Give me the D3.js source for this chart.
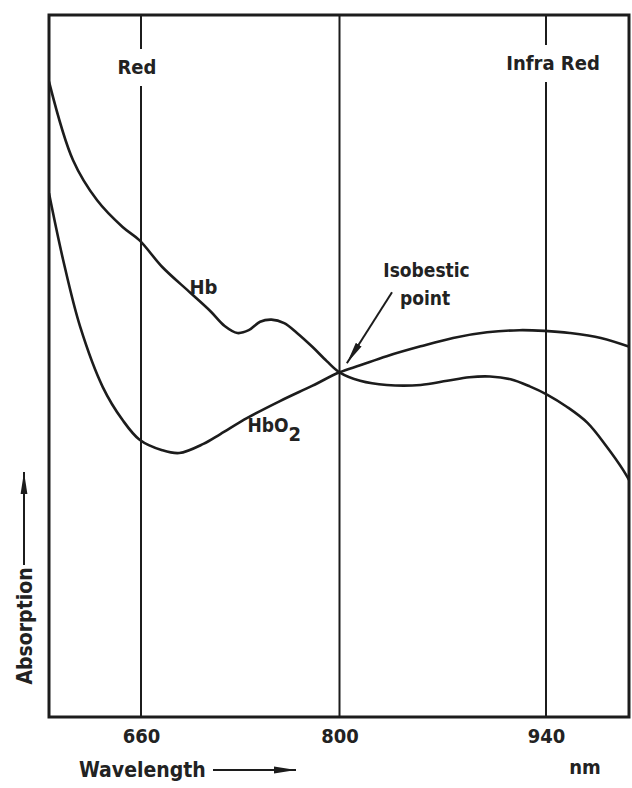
<!DOCTYPE html>
<html><head><meta charset="utf-8">
<script src="https://cdn.jsdelivr.net/npm/d3@7"></script>
<style>
html,body{margin:0;padding:0;background:#fff;}
svg{display:block;}
text{font-family:"DejaVu Sans Condensed","Liberation Sans Narrow",sans-serif;font-weight:bold;fill:#222;}
</style></head>
<body>
<script>
// ---- data ----
const hbWavelength = [595,612,629,647,659,675,695,709,719,728,736,744,752,761,770,781,791,800,814,832,855,873,888,902,916,929,941,954,968,981,992,998];
const hbAbsorption = [90.5,79.3,73.6,69.8,67.9,64.1,60.4,57.8,55.7,54.7,55.1,56.3,56.6,56.1,54.7,52.7,50.7,49.1,47.9,47.3,47.3,47.9,48.4,48.5,48.1,47.1,45.9,44.2,41.9,38.5,35.2,33.0];
const hbo2Wavelength = [595,605,617,633,647,659,675,687,704,716,735,758,781,800,814,832,855,877,900,922,939,956,977,998];
const hbo2Absorption = [74.6,65.1,55.6,47.0,42.3,39.5,38.0,37.6,38.9,40.3,42.6,45.0,47.2,49.1,50.1,51.4,52.8,54.0,54.8,55.1,55.0,54.7,54.0,52.6];
const tickValues = [660,800,940];
const markerLines = [660,800,940];
const markerLabels = ["Red","","Infra Red"];
const xExtent = [595,996];
const yExtent = [0,100];

// ---- layout ----
const W=632,H=788;
const x = d3.scaleLinear().domain([xExtent[0],660,800,940,xExtent[1]]).range([49,141,339.5,546,629]);
const y = d3.scaleLinear().domain(yExtent).range([717,15]);
const ink = "#1c1c1c";

const svg = d3.select("body").append("svg").attr("width",W).attr("height",H);

const defs = svg.append("defs");
defs.append("clipPath").attr("id","plot")
  .append("rect").attr("x",x(xExtent[0])).attr("y",y(yExtent[1]))
  .attr("width",x(xExtent[1])-x(xExtent[0])).attr("height",y(yExtent[0])-y(yExtent[1]));
defs.append("marker").attr("id","ah").attr("viewBox","0 0 22 8").attr("refX",22).attr("refY",4)
  .attr("markerWidth",22).attr("markerHeight",8).attr("markerUnits","userSpaceOnUse").attr("orient","auto")
  .append("path").attr("d","M0,0.6 L22,4 L0,7.4 Z").attr("fill",ink);

// vertical marker lines with label gaps
const labelY = [67,null,63];
markerLines.forEach((w,i)=>{
  const xp = x(w);
  if(labelY[i]===null){
    svg.append("line").attr("x1",xp).attr("x2",xp).attr("y1",y(yExtent[1])).attr("y2",y(yExtent[0]))
      .attr("stroke",ink).attr("stroke-width",2);
  } else {
    svg.append("line").attr("x1",xp).attr("x2",xp).attr("y1",y(yExtent[1])).attr("y2",labelY[i]-18)
      .attr("stroke",ink).attr("stroke-width",2);
    svg.append("line").attr("x1",xp).attr("x2",xp).attr("y1",labelY[i]+19).attr("y2",y(yExtent[0]))
      .attr("stroke",ink).attr("stroke-width",2);
    svg.append("text").attr("x",xp+(i===2?7:-4)).attr("y",labelY[i]).attr("dy","0.36em")
      .attr("text-anchor","middle").attr("font-size",20).text(markerLabels[i]);
  }
});

// frame
svg.append("rect").attr("x",x(xExtent[0])).attr("y",y(yExtent[1]))
  .attr("width",x(xExtent[1])-x(xExtent[0])).attr("height",y(yExtent[0])-y(yExtent[1]))
  .attr("fill","none").attr("stroke",ink).attr("stroke-width",3);

// curves
const line = d3.line().x(d=>x(d[0])).y(d=>y(d[1])).curve(d3.curveCatmullRom.alpha(0.5));
const g = svg.append("g").attr("clip-path","url(#plot)");
g.append("path").datum(d3.zip(hbWavelength,hbAbsorption)).attr("d",line)
  .attr("fill","none").attr("stroke",ink).attr("stroke-width",2.6);
g.append("path").datum(d3.zip(hbo2Wavelength,hbo2Absorption)).attr("d",line)
  .attr("fill","none").attr("stroke",ink).attr("stroke-width",2.6);

// x axis tick labels
const ax = svg.append("g").attr("transform",`translate(0,${y(yExtent[0])})`)
  .call(d3.axisBottom(x).tickValues(tickValues).tickSize(0).tickPadding(12).tickFormat(d3.format("d")));
ax.select(".domain").remove();
ax.selectAll("text").attr("font-size",20).attr("fill","#222")
  .style("font-family",'"DejaVu Sans Condensed","Liberation Sans Narrow",sans-serif').style("font-weight","bold");

// curve labels
svg.append("text").attr("x",x(704)).attr("y",y(61.3)).attr("dy","0.36em").attr("text-anchor","middle")
  .attr("font-size",20).text("Hb");
const t2 = svg.append("text").attr("x",x(754)).attr("y",y(41.6)).attr("dy","0.36em").attr("text-anchor","middle")
  .attr("font-size",19);
t2.append("tspan").text("HbO");
t2.append("tspan").attr("dy","0.45em").attr("font-size",20).text("2");

svg.append("text").attr("x",x(859)).attr("y",y(63.7)).attr("dy","0.36em").attr("text-anchor","middle")
  .attr("font-size",19).text("Isobestic");
svg.append("text").attr("x",x(858)).attr("y",y(59.7)).attr("dy","0.36em").attr("text-anchor","middle")
  .attr("font-size",19).text("point");
svg.append("line").attr("x1",x(835.6)).attr("y1",y(60.5)).attr("x2",x(805)).attr("y2",y(50.4))
  .attr("stroke",ink).attr("stroke-width",2).attr("marker-end","url(#ah)");

// axis titles with arrows
svg.append("text").attr("x",79).attr("y",769).attr("dy","0.36em").attr("font-size",21).text("Wavelength");
svg.append("line").attr("x1",213).attr("x2",296).attr("y1",770).attr("y2",770)
  .attr("stroke",ink).attr("stroke-width",2).attr("marker-end","url(#ah)");
svg.append("text").attr("x",585).attr("y",767).attr("dy","0.36em").attr("text-anchor","middle")
  .attr("font-size",20).text("nm");

svg.append("text").attr("transform","translate(24,626) rotate(-90)").attr("dy","0.36em")
  .attr("text-anchor","middle").attr("font-size",21).text("Absorption");
svg.append("line").attr("x1",24).attr("x2",24).attr("y1",565).attr("y2",472)
  .attr("stroke",ink).attr("stroke-width",2).attr("marker-end","url(#ah)");
</script>
</body></html>
